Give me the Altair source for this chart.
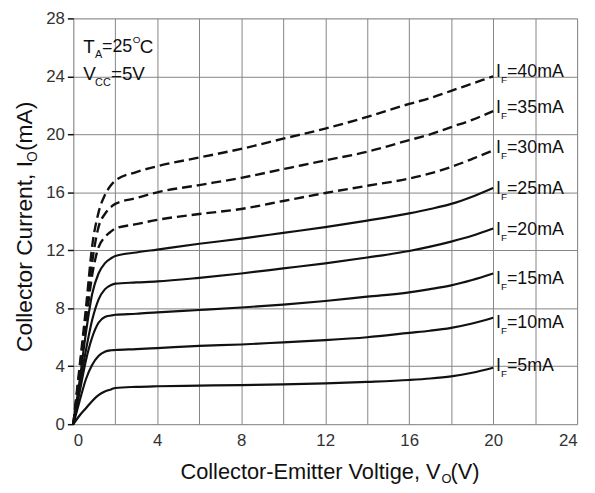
import altair as alt
import pandas as pd

# ---- data ----
vce = [0, 0.3, 0.6, 0.9, 1.2, 1.5, 1.8, 2, 3, 4, 6, 8, 10, 12, 14, 16, 17, 18, 19, 20]

i5 = [0, 0.6, 1.1, 1.6, 2.0, 2.25, 2.4, 2.5, 2.58, 2.62, 2.66, 2.7, 2.75, 2.82, 2.92, 3.05, 3.15, 3.3, 3.55, 3.9]
i10 = [0, 1.6, 3.1, 4.1, 4.7, 5.0, 5.1, 5.12, 5.18, 5.25, 5.4, 5.5, 5.65, 5.8, 6.0, 6.3, 6.45, 6.65, 6.95, 7.35]
i15 = [0, 2.2, 4.4, 6.0, 7.0, 7.4, 7.5, 7.55, 7.62, 7.72, 7.88, 8.05, 8.25, 8.5, 8.8, 9.1, 9.32, 9.58, 9.95, 10.4]
i20 = [0, 2.6, 5.1, 7.2, 8.6, 9.3, 9.6, 9.7, 9.78, 9.85, 10.1, 10.4, 10.75, 11.1, 11.5, 11.95, 12.25, 12.6, 13.0, 13.5]
i25 = [0, 3.0, 6.3, 9.0, 10.4, 11.1, 11.45, 11.6, 11.85, 12.05, 12.45, 12.8, 13.2, 13.6, 14.05, 14.55, 14.85, 15.2, 15.7, 16.3]
i30 = [0, 3.5, 7.0, 10.3, 12.2, 12.9, 13.3, 13.5, 13.8, 14.1, 14.5, 14.85, 15.4, 15.95, 16.45, 16.95, 17.3, 17.75, 18.3, 18.9]
i35 = [0, 3.7, 7.5, 11.2, 13.6, 14.5, 15.0, 15.2, 15.6, 16.0, 16.5, 17.0, 17.6, 18.2, 18.8, 19.6, 20.0, 20.5, 21.0, 21.6]
i40 = [0, 4.0, 8.0, 12.3, 14.6, 15.8, 16.5, 16.8, 17.4, 17.8, 18.4, 19.0, 19.7, 20.4, 21.2, 22.1, 22.5, 23.0, 23.5, 24.0]

solid_names = ["5mA", "10mA", "15mA", "20mA", "25mA"]
solid_vals = [i5, i10, i15, i20, i25]
dashed_names = ["30mA", "35mA", "40mA"]
dashed_vals = [i30, i35, i40]

label_names = ["=40mA", "=35mA", "=30mA", "=25mA", "=20mA", "=15mA", "=10mA", "=5mA"]
label_y = [24.3, 21.8, 19.05, 16.2, 13.4, 10.0, 7.0, 4.0]
label_x = 20.14

x_grid = list(range(0, 25, 2))
y_ticks = list(range(0, 29, 4))

FONT = "Liberation Sans"

def long_df(names, vals):
    rows = []
    for n, v in zip(names, vals):
        for xx, yy in zip(vce, v):
            rows.append({"series": n, "x": xx, "y": yy})
    return pd.DataFrame(rows)

solid_df = long_df(solid_names, solid_vals)
dashed_df = long_df(dashed_names, dashed_vals)
labels_df = pd.DataFrame({"txt": label_names, "y": label_y, "x": [label_x] * len(label_y)})

xscale = alt.Scale(domain=[0, 24], nice=False, zero=False)
yscale = alt.Scale(domain=[0, 28], nice=False)

xaxis = alt.Axis(values=x_grid, labelExpr="datum.value % 4 == 0 ? datum.label : ''",
                 grid=True, gridColor="#858585", gridWidth=1, ticks=False, domain=False,
                 labelFontSize=17, labelFont=FONT, labelColor="#333333", labelPadding=9,
                 title=None)
yaxis = alt.Axis(values=y_ticks, grid=True, gridColor="#858585", gridWidth=1,
                 ticks=True, tickSize=6, tickColor="#111111", tickWidth=1.5, domain=False,
                 labelFontSize=17, labelFont=FONT, labelColor="#333333", labelPadding=3,
                 title=None)

solid = alt.Chart(solid_df).mark_line(color="#111111", strokeWidth=2.2, interpolate="monotone").encode(
    x=alt.X("x:Q", scale=xscale, axis=xaxis),
    y=alt.Y("y:Q", scale=yscale, axis=yaxis),
    detail="series:N",
)
dashed = alt.Chart(dashed_df).mark_line(color="#111111", strokeWidth=2.4, strokeDash=[10, 5],
                                        interpolate="monotone").encode(
    x=alt.X("x:Q", scale=xscale),
    y=alt.Y("y:Q", scale=yscale),
    detail="series:N",
)

lab_I = alt.Chart(labels_df).mark_text(text="I", align="left", baseline="middle", fontSize=18,
                                       font=FONT, color="#111111").encode(
    x=alt.X("x:Q", scale=xscale), y=alt.Y("y:Q", scale=yscale))
lab_F = alt.Chart(labels_df).mark_text(text="F", align="left", baseline="middle", fontSize=10,
                                       font=FONT, color="#111111", dx=5, dy=8).encode(
    x=alt.X("x:Q", scale=xscale), y=alt.Y("y:Q", scale=yscale))
lab_rest = alt.Chart(labels_df).mark_text(align="left", baseline="middle", fontSize=18,
                                          font=FONT, color="#111111", dx=11).encode(
    x=alt.X("x:Q", scale=xscale), y=alt.Y("y:Q", scale=yscale), text="txt:N")


def txt(s, px, py, size, **kw):
    return alt.Chart(pd.DataFrame({"a": [0]})).mark_text(
        text=s, fontSize=size, font=FONT, color="#111111", **kw
    ).encode(x=alt.value(px), y=alt.value(py))

# top-left conditions (pixel positions inside the plot area)
ann = [
    txt("T", 10, 29, 19, align="left", baseline="middle"),
    txt("A", 22, 37, 11, align="left", baseline="middle"),
    txt("=25", 29, 29, 18, align="left", baseline="middle"),
    txt("O", 60, 22, 10, align="left", baseline="middle"),
    txt("C", 67, 29, 19, align="left", baseline="middle"),
    txt("V", 10, 56, 19, align="left", baseline="middle"),
    txt("CC", 22, 65, 11, align="left", baseline="middle"),
    txt("=5V", 38, 56, 19, align="left", baseline="middle"),
]

# axis titles with subscripts
titles = [
    txt("Collector-Emitter Voltige, V", 371, 458, 22, align="right", baseline="middle"),
    txt("O", 372, 465, 13, align="left", baseline="middle"),
    txt("(V)", 381, 458, 22, align="left", baseline="middle"),
    txt("Collector Current, I", -49, 337, 23, align="left", baseline="middle", angle=270),
    txt("O", -41, 145, 14, align="left", baseline="middle", angle=270),
    txt("(mA)", -49, 134, 23, align="left", baseline="middle", angle=270),
]

chart = alt.layer(solid, dashed, lab_I, lab_F, lab_rest, *ann, *titles).properties(
    width=509, height=410,
    autosize=alt.AutoSizeParams(type="none"),
    padding={"left": 66, "top": 8, "right": 10, "bottom": 65},
).configure_view(stroke="#111111", strokeWidth=2).configure(background="white")

chart.save("out.html", embed_options={"renderer": "svg", "actions": False})
